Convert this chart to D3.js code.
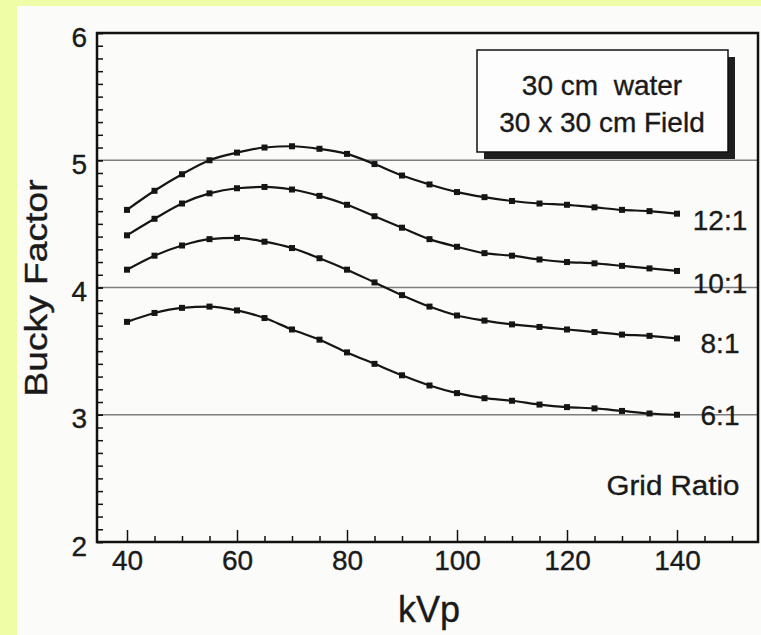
<!DOCTYPE html>
<html>
<head>
<meta charset="utf-8">
<script src="https://cdn.jsdelivr.net/npm/d3@7"></script>
<style>
    body { margin: 0; background: #effea6; }
    text { font-family: "Liberation Sans", Arial, sans-serif; fill: #1a1a1a; stroke: #1a1a1a; stroke-width: 0.35px; }
</style>
</head>
<body>
<div id="BuckyChart"></div>
<script>

/*
    BUCKY FACTOR vs kVp (grid ratio curves)
*/

// data
var kvp = [40, 45, 50, 55, 60, 65, 70, 75, 80, 85, 90, 95, 100, 105, 110, 115, 120, 125, 130, 135, 140];
var ratio12 = [4.61, 4.76, 4.89, 5.00, 5.06, 5.10, 5.11, 5.09, 5.05, 4.97, 4.88, 4.81, 4.75, 4.71, 4.68, 4.66, 4.65, 4.63, 4.61, 4.60, 4.58];
var ratio10 = [4.41, 4.54, 4.66, 4.74, 4.78, 4.79, 4.77, 4.72, 4.65, 4.56, 4.47, 4.38, 4.32, 4.27, 4.25, 4.22, 4.20, 4.19, 4.17, 4.15, 4.13];
var ratio8 = [4.14, 4.25, 4.33, 4.38, 4.39, 4.36, 4.31, 4.23, 4.14, 4.04, 3.94, 3.85, 3.78, 3.74, 3.71, 3.69, 3.67, 3.65, 3.63, 3.62, 3.60];
var ratio6 = [3.73, 3.80, 3.84, 3.85, 3.82, 3.76, 3.67, 3.59, 3.49, 3.40, 3.31, 3.23, 3.17, 3.13, 3.11, 3.08, 3.06, 3.05, 3.03, 3.01, 3.00];
var seriesNames = ["12:1", "10:1", "8:1", "6:1"];
var xMajorTicks = [40, 60, 80, 100, 120, 140];
var yMajorTicks = [2, 3, 4, 5, 6];
var gridValues = [3, 4, 5];
var boxLines = ["30 cm\u00a0\u00a0water", "30 x 30 cm Field"];

var series = [ratio12, ratio10, ratio8, ratio6].map(function(vals, i) {
    return { name: seriesNames[i], values: vals.map(function(v, j) { return { x: kvp[j], y: v }; }) };
});

// drawing area
var W = 761, H = 635;
var frame = {left: 97, top: 33, right: 758, bottom: 542};

var svg = d3.select("#BuckyChart").append("svg")
    .attr("width", W)
    .attr("height", H)
    .style("display", "block");

// yellow page + scanned paper
svg.append("rect").attr("width", W).attr("height", H).attr("fill", "#effea6");
svg.append("rect").attr("x", 17).attr("y", 6).attr("width", W - 17).attr("height", H - 6).attr("fill", "#fbfbf9");

// scales
var x = d3.scaleLinear().domain([40, 140]).range([127, 677]);
var y = d3.scaleLinear().domain([2, 6]).range([frame.bottom, frame.top]);

// horizontal grid lines
svg.selectAll(".grid")
    .data(gridValues)
    .enter().append("line")
    .attr("class", "grid")
    .attr("x1", frame.left).attr("x2", frame.right)
    .attr("y1", function(d) { return y(d); })
    .attr("y2", function(d) { return y(d); })
    .attr("stroke", "#7d7d7d")
    .attr("stroke-width", 1.3);

// x axis: minor + major ticks pointing inward
var xMinor = d3.range(45, 151, 5).filter(function(d) { return xMajorTicks.indexOf(d) < 0; });
var xAxisG = svg.append("g").attr("transform", "translate(0," + frame.bottom + ")");
xAxisG.append("g")
    .call(d3.axisBottom(x).tickValues(xMinor).tickSize(-6).tickSizeOuter(0).tickFormat(""));
xAxisG.append("g")
    .call(d3.axisBottom(x).tickValues(xMajorTicks).tickSize(-12).tickSizeOuter(0)
        .tickPadding(8).tickFormat(d3.format("d")));
xAxisG.selectAll(".domain").remove();
xAxisG.selectAll("line").attr("stroke", "#111").attr("stroke-width", 1.5);
xAxisG.selectAll("text").attr("font-size", 28).attr("fill", "#1a1a1a")
    .style("font-family", "'Liberation Sans', Arial, sans-serif");

// y axis: ticks every 0.1
var yAxisG = svg.append("g").attr("transform", "translate(" + frame.left + ",0)");
yAxisG.append("g")
    .call(d3.axisLeft(y).ticks(40).tickSize(-6).tickSizeOuter(0).tickFormat(""));
yAxisG.append("g")
    .call(d3.axisLeft(y).tickValues(yMajorTicks).tickSize(-6).tickSizeOuter(0)
        .tickPadding(10).tickFormat(d3.format("d")));
yAxisG.selectAll(".domain").remove();
yAxisG.selectAll("line").attr("stroke", "#111").attr("stroke-width", 1.5);
yAxisG.selectAll("text").attr("font-size", 28).attr("dy", "0.47em").attr("fill", "#1a1a1a")
    .style("font-family", "'Liberation Sans', Arial, sans-serif");

// plot frame
svg.append("rect")
    .attr("x", frame.left).attr("y", frame.top)
    .attr("width", frame.right - frame.left).attr("height", frame.bottom - frame.top)
    .attr("fill", "none")
    .attr("stroke", "#111")
    .attr("stroke-width", 2.5);

// curves
var line = d3.line()
    .x(function(d) { return x(d.x); })
    .y(function(d) { return y(d.y); })
    .curve(d3.curveMonotoneX);

var curves = svg.selectAll(".curve")
    .data(series)
    .enter().append("g")
    .attr("class", "curve");

curves.append("path")
    .attr("d", function(d) { return line(d.values); })
    .attr("fill", "none")
    .attr("stroke", "#151515")
    .attr("stroke-width", 2.2);

curves.selectAll(".pt")
    .data(function(d) { return d.values; })
    .enter().append("rect")
    .attr("class", "pt")
    .attr("x", function(d) { return x(d.x) - 3; })
    .attr("y", function(d) { return y(d.y) - 3; })
    .attr("width", 6).attr("height", 6)
    .attr("fill", "#151515");

// grid ratio labels at the end of each curve (small vertical nudges as in the figure)
var labelDy = [16, 22, 15, 10];
curves.append("text")
    .attr("x", function(d) { return x(d.values[d.values.length - 1].x) + 43; })
    .attr("y", function(d, i) { return y(d.values[d.values.length - 1].y) + labelDy[i]; })
    .attr("text-anchor", "middle")
    .attr("font-size", 28)
    .text(function(d) { return d.name; });

svg.append("text")
    .attr("x", 673).attr("y", 495)
    .attr("text-anchor", "middle")
    .attr("font-size", 27)
    .attr("textLength", 133)
    .attr("lengthAdjust", "spacingAndGlyphs")
    .text("Grid Ratio");

// info box with drop shadow
svg.append("rect")
    .attr("x", 484).attr("y", 57).attr("width", 251).attr("height", 102)
    .attr("fill", "#1e1e1e");
svg.append("rect")
    .attr("x", 477).attr("y", 50).attr("width", 251).attr("height", 102)
    .attr("fill", "#fdfdfd")
    .attr("stroke", "#111")
    .attr("stroke-width", 1.5);
svg.selectAll(".boxline")
    .data(boxLines)
    .enter().append("text")
    .attr("class", "boxline")
    .attr("x", 602)
    .attr("y", function(d, i) { return 95 + i * 37; })
    .attr("text-anchor", "middle")
    .attr("font-size", 28)
    .text(function(d) { return d; });

// axis titles
svg.append("text")
    .attr("transform", "translate(47,288) rotate(-90)")
    .attr("text-anchor", "middle")
    .attr("font-size", 31)
    .attr("textLength", 217)
    .attr("lengthAdjust", "spacingAndGlyphs")
    .text("Bucky Factor");

svg.append("text")
    .attr("x", 429).attr("y", 622)
    .attr("text-anchor", "middle")
    .attr("font-size", 36)
    .text("kVp");

</script>
</body>
</html>
